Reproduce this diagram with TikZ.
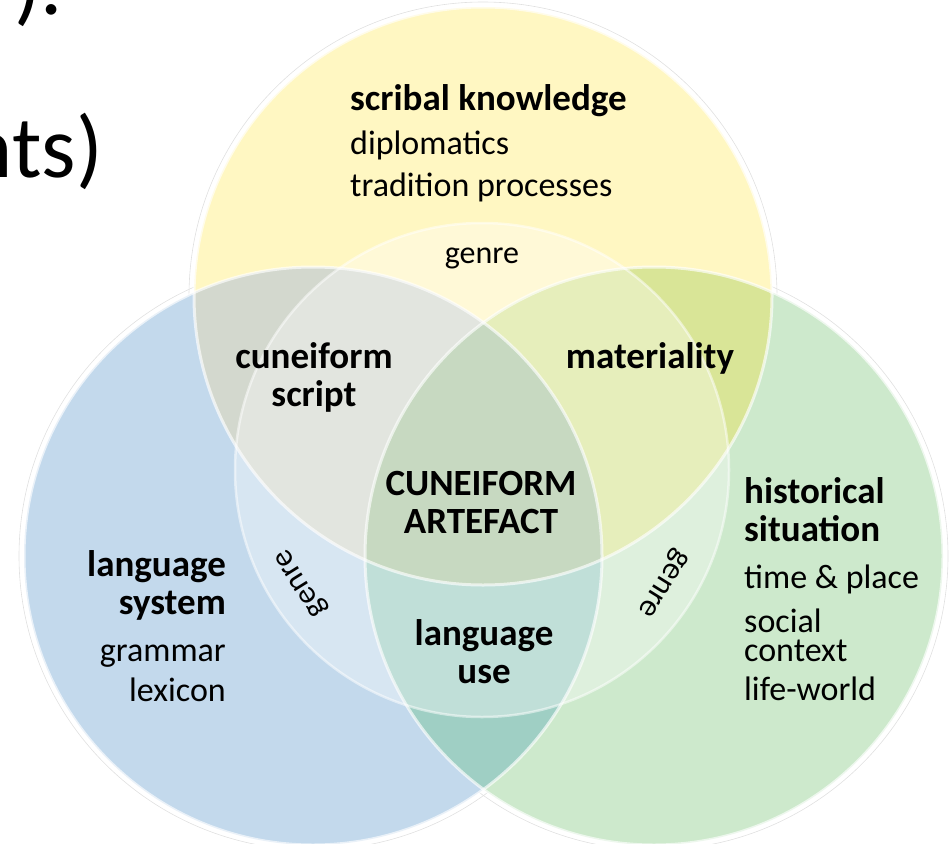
\documentclass[tikz,border=0pt]{standalone}
\usepackage{fontspec}
\setmainfont{Carlito}
\definecolor{scribalfill}{HTML}{FFF7C2}
\definecolor{langfill}{HTML}{C3D9EC}
\definecolor{histfill}{HTML}{CDE9CC}
\definecolor{scriptfill}{HTML}{D3D8CE}
\definecolor{materfill}{HTML}{D9E597}
\definecolor{usefill}{HTML}{9FCFC4}
\definecolor{artefill}{HTML}{A9C5A0}
\tikzset{
  head/.style={font=\fontsize{37}{39}\selectfont\bfseries, inner sep=0pt},
  sub/.style={font=\fontsize{34}{40}\selectfont, inner sep=0pt},
  slide/.style={font=\fontsize{88}{96}\selectfont, inner sep=0pt},
  rim/.style={draw=white, draw opacity=0.65, line width=3pt},
  glow/.style={draw=black!12, line width=0.6pt},
}
\begin{document}
\begin{tikzpicture}[x=1pt,y=1pt]
  \useasboundingbox (0,0) rectangle (950,-843);
  % centres of the circles
  \coordinate (Y) at (483,-296);
  \coordinate (B) at (313,-556);
  \coordinate (G) at (654,-556);
  \coordinate (W) at (482,-470);

  % cut-off slide text
  \node (slideA) at (14,-15) [slide, anchor=base west] {).};
  \node (slideB) at (103,-177) [slide, anchor=base east] {nts)};

  % three circles and their overlaps
  \foreach \c in {Y,B,G} \draw [glow] (\c) circle [radius=294];
  \fill [scribalfill] (Y) circle [radius=289];
  \fill [langfill]    (B) circle [radius=289];
  \fill [histfill]    (G) circle [radius=289];
  \begin{scope}
    \clip (Y) circle [radius=289];
    \fill [scriptfill] (B) circle [radius=289];
    \fill [materfill]  (G) circle [radius=289];
  \end{scope}
  \begin{scope}
    \clip (B) circle [radius=289];
    \fill [usefill] (G) circle [radius=289];
  \end{scope}
  \begin{scope}
    \clip (Y) circle [radius=289];
    \clip (B) circle [radius=289];
    \fill [artefill] (G) circle [radius=289];
  \end{scope}
  \foreach \c in {Y,B,G} \draw [rim] (\c) circle [radius=289];

  % genre ring
  \fill [white, fill opacity=0.35] (W) circle [radius=247];
  \draw [white, draw opacity=0.5, line width=2.5pt] (W) circle [radius=247];
  \foreach \a in {90,212,328}
    \node (genre\a) at ([shift={(\a:212)}]W) [sub, font=\fontsize{32}{38}\selectfont, rotate=\a-90] {genre};

  % scribal knowledge
  \node (scribal) at (350,-110) [head, anchor=base west] {scribal knowledge};
  \node (diplom)  at (350,-154) [sub, anchor=base west] {diplomatics};
  \node (tradit)  at (350,-196) [sub, anchor=base west] {tradition processes};

  % overlaps
  \node (cunei)  at (314,-368) [head, anchor=base] {cuneiform};
  \node (script) at (314,-406) [head, anchor=base] {script};
  \node (mater)  at (650,-368) [head, anchor=base] {materiality};
  \node (artA)   at (481,-495) [head, anchor=base] {CUNEIFORM};
  \node (artB)   at (481,-533) [head, anchor=base] {ARTEFACT};
  \node (useA)   at (484,-645) [head, anchor=base] {language};
  \node (useB)   at (484,-683) [head, anchor=base] {use};

  % language system
  \node (langA) at (226,-576) [head, anchor=base east] {language};
  \node (langB) at (226,-614) [head, anchor=base east] {system};
  \node (gramm) at (226,-661) [sub, anchor=base east] {grammar};
  \node (lexic) at (226,-701) [sub, anchor=base east] {lexicon};

  % historical situation
  \node (histA) at (744,-503) [head, anchor=base west] {historical};
  \node (histB) at (744,-541) [head, anchor=base west] {situation};
  \node (time)  at (744,-588) [sub, anchor=base west] {time \& place};
  \node (soc)   at (744,-632) [sub, anchor=base west] {social};
  \node (ctx)   at (744,-661) [sub, anchor=base west] {context};
  \node (life)  at (744,-700) [sub, anchor=base west] {life-world};
\end{tikzpicture}
\end{document}
